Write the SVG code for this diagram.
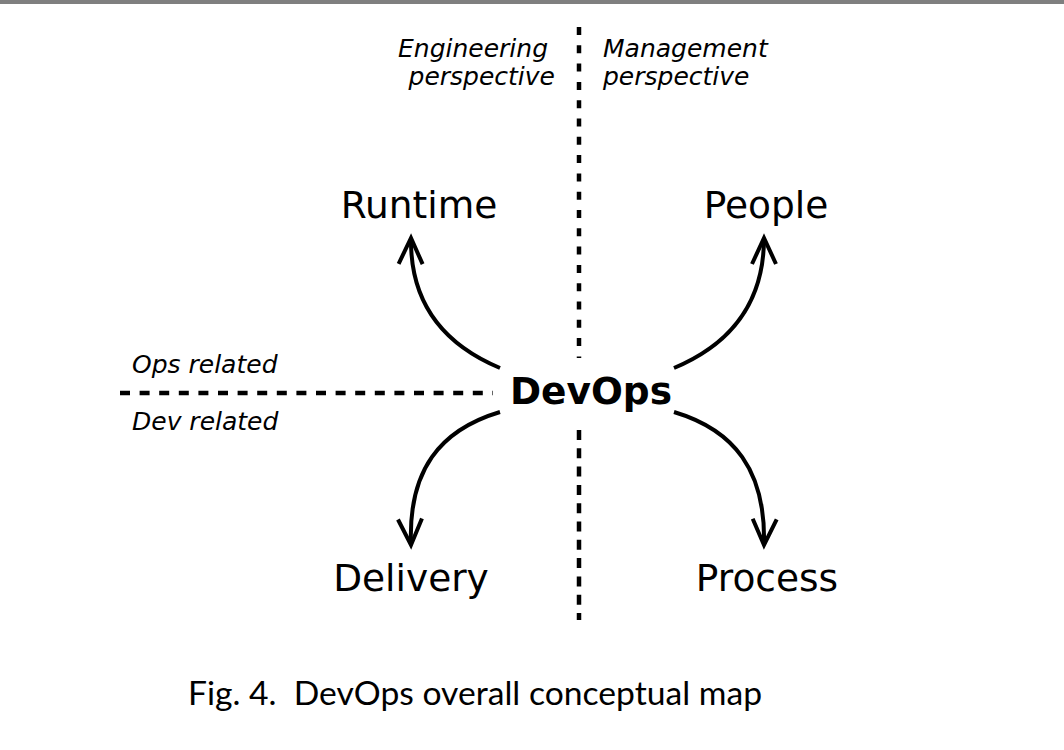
<svg xmlns="http://www.w3.org/2000/svg" width="1064" height="750" viewBox="0 0 1064 750">
<defs>
<style>
.lbl{font-family:"DejaVu Sans",sans-serif;font-size:37.5px;fill:#000;text-anchor:middle}
.hub{font-family:"DejaVu Sans",sans-serif;font-size:37.5px;font-weight:bold;fill:#000;text-anchor:middle}
.it{font-family:"DejaVu Sans",sans-serif;font-size:25px;font-style:italic;fill:#000}
.cap{font-family:Lato,"Open Sans",sans-serif;font-size:33px;fill:#000;white-space:pre}
.dash{stroke:#000;stroke-width:4.5;fill:none}
.arc{stroke:#000;stroke-width:4;fill:none;marker-end:url(#chev)}
</style>
<marker id="chev" markerUnits="userSpaceOnUse" markerWidth="40" markerHeight="40" viewBox="-30 -20 40 40" refX="0" refY="0" orient="auto">
<path d="M -26 -12 L 0 0 L -26 12" fill="none" stroke="#000" stroke-width="4"/>
</marker>
</defs>
<rect x="0" y="0" width="1064" height="4" fill="#7f7f7f"/>
<g id="axes">
<line class="dash" x1="579" y1="27" x2="579" y2="358" stroke-dasharray="8 10.3"/>
<line class="dash" x1="579" y1="430" x2="579" y2="620" stroke-dasharray="10 8.3"/>
<line class="dash" x1="120" y1="393" x2="493" y2="393" stroke-dasharray="10 9.6"/>
</g>
<g id="axis-labels">
<text class="it" x="548" y="57" text-anchor="end">Engineering</text>
<text class="it" x="555" y="85" text-anchor="end">perspective</text>
<text class="it" x="603" y="57">Management</text>
<text class="it" x="603" y="85">perspective</text>
<text class="it" x="132" y="373">Ops related</text>
<text class="it" x="132" y="430">Dev related</text>
</g>
<g id="connectors">
<path class="arc" d="M 500 368 C 445 345, 410 305, 411 238"/>
<path class="arc" d="M 674 368 C 729 345, 764 305, 764 238"/>
<path class="arc" d="M 500 412 C 440 430, 408 470, 411 545"/>
<path class="arc" d="M 674 412 C 734 430, 766 470, 764 545"/>
</g>
<g id="node-devops"><text class="hub" x="591" y="404">DevOps</text></g>
<g id="node-runtime"><text class="lbl" x="419" y="218">Runtime</text></g>
<g id="node-people"><text class="lbl" x="766" y="218">People</text></g>
<g id="node-delivery"><text class="lbl" x="411" y="591">Delivery</text></g>
<g id="node-process"><text class="lbl" x="767" y="591">Process</text></g>
<text class="cap" x="188" y="705" textLength="574" lengthAdjust="spacingAndGlyphs" xml:space="preserve">Fig. 4.  DevOps overall conceptual map</text>
</svg>
